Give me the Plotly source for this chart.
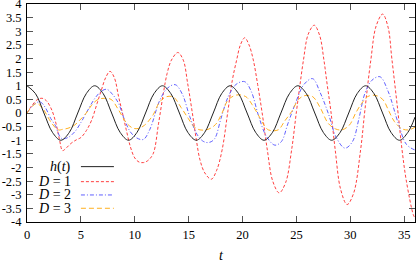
import plotly.graph_objects as go

# ---- data ----
t_h = [0, 0.79, 1.57, 2.36, 3.14, 3.93, 4.71, 5.5, 6.28, 7.07, 7.85, 8.64, 9.42, 10.21, 11.0,
       11.78, 12.57, 13.35, 14.14, 14.92, 15.71, 16.49, 17.28, 18.06, 18.85, 19.63, 20.42,
       21.21, 21.99, 22.78, 23.56, 24.35, 25.13, 25.92, 26.7, 27.49, 28.27, 29.06, 29.85,
       30.63, 31.42, 32.2, 32.99, 33.77, 34.56, 35.34, 36.0]
h_vals = [1, 0.71, 0, -0.71, -1, -0.71, 0, 0.71, 1, 0.71, 0, -0.71, -1, -0.71, 0,
          0.71, 1, 0.71, 0, -0.71, -1, -0.71, 0, 0.71, 1, 0.71, 0,
          -0.71, -1, -0.71, 0, 0.71, 1, 0.71, 0, -0.71, -1, -0.71, 0,
          0.71, 1, 0.71, 0, -0.71, -1, -0.71, -0.15]

t_d1 = [0, 0.5, 1.0, 1.4, 1.8, 2.3, 2.7, 3.0, 3.3, 3.6, 4.1, 4.6, 5.0, 5.5, 6.0, 6.5, 6.9,
        7.3, 7.7, 8.1, 8.5, 8.8, 9.2, 9.6, 10.0, 10.4, 10.8, 11.2, 11.7, 12.2, 12.65, 13.0,
        13.4, 14.0, 14.5, 14.9, 15.3, 15.7, 16.05, 16.5, 17.1, 17.6, 18.1, 18.65, 19.05,
        19.45, 19.8, 20.2, 20.6, 21.0, 21.4, 21.8, 22.3, 22.8, 23.4, 24.0, 24.55, 25.0,
        25.3, 25.65, 26.1, 26.65, 27.15, 27.55, 27.85, 28.2, 28.6, 29.1, 29.7, 30.3, 30.95,
        31.35, 31.9, 32.4, 33.0, 33.5, 33.85, 34.4, 34.8, 35.2, 35.85, 36.0]
d1_vals = [0, 0.3, 0.5, 0.54, 0.45, 0.11, -0.4, -0.95, -1.38, -1.3, -1.11, -0.98, -0.9,
           -0.65, -0.26, 0.35, 0.84, 1.3, 1.53, 1.3, 0.6, 0.1, -0.6, -1.25, -1.65, -1.8,
           -1.82, -1.75, -1.5, -0.4, 0.72, 1.45, 1.94, 2.22, 1.94, 1.1, 0.11, -0.95, -1.72,
           -2.2, -2.43, -2.1, -1.36, 0.1, 1.2, 1.94, 2.5, 2.76, 2.5, 1.94, 1.05, 0.05, -1.36,
           -2.5, -2.93, -2.55, -1.36, 0.05, 0.95, 1.94, 2.9, 3.22, 2.85, 1.94, 1.05, 0.05,
           -1.36, -2.8, -3.36, -2.95, -1.36, 0.1, 1.94, 3.2, 3.63, 3.15, 2.0, 0.1, -1.36,
           -2.5, -3.74, -3.85]

t_d2 = [0, 0.6, 1.2, 1.7, 2.2, 2.6, 3.2, 3.8, 4.45, 5.0, 5.4, 6.3, 6.9, 7.4, 7.9, 8.5, 9.0,
        9.6, 10.2, 10.8, 11.4, 12.3, 13.0, 13.75, 14.4, 15.1, 15.8, 16.4, 16.9, 17.4, 18.0,
        18.67, 19.4, 20.2, 20.8, 21.46, 22.2, 23.0, 23.6, 24.2, 24.9, 25.7, 26.5, 27.2,
        27.95, 28.7, 29.5, 30.2, 30.8, 31.35, 32.0, 32.75, 33.5, 34.45, 35.2, 36.0]
d2_vals = [0, 0.3, 0.41, 0.2, -0.2, -0.44, -0.93, -0.9, -0.68, -0.35, -0.07, 0.54, 0.8, 0.87,
           0.7, 0.35, -0.2, -0.7, -0.92, -0.97, -0.6, 0.45, 0.9, 1.04, 0.7, -0.13, -0.8,
           -1.05, -1.08, -0.95, -0.2, 0.6, 1.05, 1.15, 0.8, -0.07, -0.85, -1.18, -1.05, -0.4,
           0.35, 1.05, 1.26, 0.75, -0.01, -0.9, -1.29, -1.05, -0.2, 0.72, 1.2, 1.33, 0.8,
           -0.38, -1.15, -1.36]

t_d3 = [0, 0.5, 0.9, 1.4, 2.3, 2.9, 3.3, 3.8, 4.4, 4.9, 5.5, 6.0, 6.6, 7.2, 7.8, 8.5, 9.2,
        9.8, 10.3, 10.9, 11.7, 12.3, 12.96, 13.6, 14.3, 14.96, 15.5, 16.05, 16.8, 17.5, 18.1,
        18.67, 19.45, 20.3, 20.9, 21.46, 22.0, 22.4, 23.3, 23.9, 24.55, 25.2, 25.8, 26.5,
        27.2, 27.95, 28.6, 29.2, 29.9, 30.5, 31.05, 31.6, 32.3, 33.0, 33.6, 34.1, 34.8,
        35.4, 36.0]
d3_vals = [0, 0.25, 0.35, 0.2, -0.38, -0.62, -0.6, -0.56, -0.45, -0.26, 0.0, 0.29, 0.5,
           0.54, 0.5, 0.11, -0.35, -0.55, -0.57, -0.45, -0.07, 0.4, 0.6, 0.58, 0.2, -0.2,
           -0.5, -0.62, -0.6, -0.42, 0.0, 0.48, 0.66, 0.6, 0.3, -0.07, -0.45, -0.62, -0.62,
           -0.3, 0.05, 0.5, 0.64, 0.6, 0.2, -0.38, -0.58, -0.62, -0.45, 0.0, 0.35, 0.6, 0.65,
           0.5, 0.05, -0.32, -0.58, -0.62, -0.52]

y_ticks = [-4, -3.5, -3, -2.5, -2, -1.5, -1, -0.5, 0, 0.5, 1, 1.5, 2, 2.5, 3, 3.5, 4]
y_tick_text = ["-4", "-3.5", "-3", "-2.5", "-2", "-1.5", "-1", "-0.5", "0", "0.5", "1",
               "1.5", "2", "2.5", "3", "3.5", "4"]
x_ticks = [0, 5, 10, 15, 20, 25, 30, 35]
x_tick_text = ["0", "5", "10", "15", "20", "25", "30", "35"]

legend_labels = ["<i>h</i>(<i>t</i>)", "<i>D</i> = 1", "<i>D</i> = 2", "<i>D</i> = 3"]

# ---- styles ----
FONT = "Liberation Serif"
styles = [
    dict(color="#222222", width=1.0, dash="solid"),
    dict(color="#ff4040", width=1.0, dash="3px,2px"),
    dict(color="#6060ff", width=1.0, dash="4px,2px,1px,2px"),
    dict(color="#ffb020", width=1.0, dash="5px,3px"),
]

fig = go.Figure()
series = [(t_d1, d1_vals, styles[1]), (t_d2, d2_vals, styles[2]),
          (t_d3, d3_vals, styles[3]), (t_h, h_vals, styles[0])]
for tx, vy, st in series:
    fig.add_trace(go.Scatter(x=tx, y=vy, mode="lines",
                             line=dict(color=st["color"], width=st["width"], dash=st["dash"],
                                       shape="spline", smoothing=1.0),
                             showlegend=False, hoverinfo="skip"))

# manual legend (text left, sample line right)
leg_y = [0.254, 0.185, 0.124, 0.063]
for lab, yy, st in zip(legend_labels, leg_y, styles):
    fig.add_annotation(x=0.119, y=yy, xref="paper", yref="paper", text=lab,
                       showarrow=False, xanchor="right", yanchor="middle",
                       font=dict(family=FONT, size=14, color="black"))
    fig.add_shape(type="line", xref="paper", yref="paper", x0=0.139, x1=0.224, y0=yy, y1=yy,
                  line=dict(color=st["color"], width=st["width"], dash=st["dash"]))

# x-axis title
fig.add_annotation(x=0.5, y=0, xref="paper", yref="paper", text="<i>t</i>",
                   showarrow=False, xanchor="center", yanchor="middle", yshift=-33,
                   font=dict(family=FONT, size=14, color="black"))

axis_common = dict(showline=True, linecolor="black", linewidth=1, mirror="ticks",
                   ticks="inside", ticklen=6, tickcolor="#555555", tickwidth=1,
                   showgrid=False, zeroline=False, automargin=False,
                   ticklabeloverflow="allow",
                   tickfont=dict(family=FONT, size=12.5, color="black"))

fig.update_xaxes(range=[0, 36], tickvals=x_ticks, ticktext=x_tick_text,
                 ticklabelstandoff=1, **axis_common)
fig.update_yaxes(range=[-4, 4], tickvals=y_ticks, ticktext=y_tick_text,
                 ticklabelstandoff=2, **axis_common)

fig.update_layout(width=416, height=261, margin=dict(l=27, r=1, t=4, b=39),
                  plot_bgcolor="white", paper_bgcolor="white",
                  font=dict(family=FONT))

fig.write_html("out.html", config={"displayModeBar": False},
               post_script="document.body.style.margin='0';")
